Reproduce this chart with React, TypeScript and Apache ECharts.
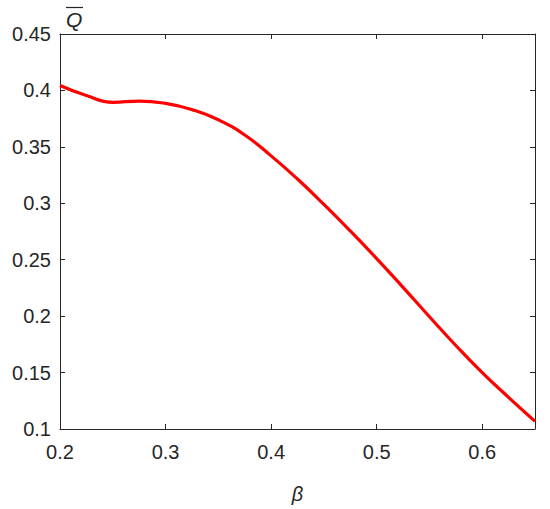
import React, { useEffect, useRef } from "react";
import * as echarts from "echarts";

const betaValues = [0.2, 0.225, 0.25, 0.275, 0.3, 0.325, 0.35, 0.375, 0.4, 0.425, 0.45, 0.475, 0.5, 0.525, 0.55, 0.575, 0.6, 0.625, 0.65];
const qValues = [0.4044, 0.3955, 0.3895, 0.3905, 0.3885, 0.383, 0.374, 0.3605, 0.342, 0.3215, 0.299, 0.2755, 0.251, 0.2255, 0.1995, 0.174, 0.15, 0.128, 0.1068];
const xTicks = { min: 0.2, max: 0.65, interval: 0.1 };
const yTicks = { min: 0.1, max: 0.45, interval: 0.05 };

const AXIS_COLOR = "#262626";
const FONT = "Liberation Sans, Arial, sans-serif";

export default function App() {
  const ref = useRef<HTMLDivElement>(null);
  useEffect(() => {
    document.body.style.margin = "0";
    if (!ref.current) return;
    const chart = echarts.init(ref.current, null, { renderer: "svg" });
    const data = betaValues.map((b, i) => [b, qValues[i]]);
    const baseAxis = {
      type: "value" as const,
      axisLine: { show: true, onZero: false, lineStyle: { color: AXIS_COLOR, width: 1 } },
      axisTick: { show: true, inside: true, length: 5, lineStyle: { color: AXIS_COLOR } },
      splitLine: { show: false },
    };
    chart.setOption({
      animation: false,
      backgroundColor: "#ffffff",
      grid: { left: 60, right: 15, top: 34, bottom: 73 },
      xAxis: [
        {
          ...baseAxis,
          position: "bottom",
          min: xTicks.min,
          max: xTicks.max,
          interval: xTicks.interval,
          axisLabel: {
            color: AXIS_COLOR,
            fontSize: 20,
            fontFamily: FONT,
            margin: 13,
            showMaxLabel: false,
            formatter: (v: number) => String(Math.round(v * 100) / 100),
          },
          name: "β",
          nameLocation: "middle",
          nameGap: 55,
          nameTextStyle: { color: AXIS_COLOR, fontSize: 20, fontStyle: "italic", fontFamily: FONT },
        },
        {
          ...baseAxis,
          position: "top",
          min: xTicks.min,
          max: xTicks.max,
          interval: xTicks.interval,
          axisLabel: { show: false },
        },
      ],
      yAxis: [
        {
          ...baseAxis,
          position: "left",
          min: yTicks.min,
          max: yTicks.max,
          interval: yTicks.interval,
          axisLabel: {
            color: AXIS_COLOR,
            fontSize: 20,
            fontFamily: FONT,
            margin: 9,
            formatter: (v: number) => String(Math.round(v * 100) / 100),
          },
        },
        {
          ...baseAxis,
          position: "right",
          min: yTicks.min,
          max: yTicks.max,
          interval: yTicks.interval,
          axisLabel: { show: false },
        },
      ],
      graphic: [
        {
          type: "text",
          left: 66,
          top: 9,
          style: { text: "Q", fontSize: 21, fontStyle: "italic", fontFamily: FONT, fill: AXIS_COLOR },
        },
        {
          type: "line",
          shape: { x1: 66, y1: 7.5, x2: 83, y2: 7.5 },
          style: { stroke: AXIS_COLOR, lineWidth: 1.2 },
        },
      ],
      series: [
        {
          type: "line",
          data,
          smooth: 0.5,
          showSymbol: false,
          lineStyle: { color: "#ff0000", width: 3.2 },
          clip: false,
        },
      ],
    });
    return () => chart.dispose();
  }, []);
  return <div ref={ref} style={{ width: 550, height: 509 }} />;
}
